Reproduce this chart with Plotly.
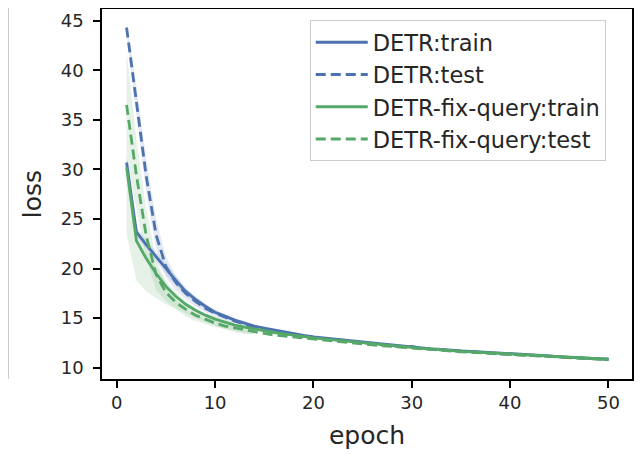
import plotly.graph_objects as go

epochs = list(range(1, 51))

detr_train = [30.7, 23.7, 22.4, 21.2, 19.9, 18.8, 17.7, 16.9, 16.2, 15.6,
              15.2, 14.8, 14.5, 14.2, 14.0, 13.8, 13.6, 13.4, 13.25, 13.1,
              13.0, 12.9, 12.8, 12.7, 12.55, 12.45, 12.35, 12.25, 12.15, 12.1,
              12.0, 11.9, 11.85, 11.75, 11.7, 11.65, 11.6, 11.5, 11.45, 11.4,
              11.35, 11.3, 11.25, 11.2, 11.1, 11.05, 11.0, 10.95, 10.9, 10.85]

detr_test = [44.3, 37.0, 29.3, 23.4, 20.2, 18.6, 17.5, 16.7, 16.0, 15.5,
             15.1, 14.7, 14.4, 14.1, 13.9, 13.7, 13.5, 13.35, 13.2, 13.05,
             12.95, 12.85, 12.75, 12.65, 12.5, 12.4, 12.3, 12.2, 12.1, 12.15,
             11.95, 11.85, 11.8, 11.7, 11.65, 11.6, 11.55, 11.45, 11.4, 11.35,
             11.3, 11.25, 11.2, 11.15, 11.1, 11.05, 11.0, 10.95, 10.9, 10.85]

fix_train = [30.2, 22.8, 21.0, 19.5, 18.2, 17.2, 16.4, 15.8, 15.3, 14.9,
             14.6, 14.3, 14.1, 13.9, 13.7, 13.55, 13.4, 13.25, 13.1, 13.0,
             12.9, 12.8, 12.7, 12.6, 12.5, 12.4, 12.3, 12.2, 12.1, 12.05,
             11.95, 11.9, 11.8, 11.75, 11.65, 11.6, 11.55, 11.5, 11.45, 11.4,
             11.3, 11.25, 11.2, 11.15, 11.1, 11.05, 11.0, 10.95, 10.9, 10.85]

fix_test = [36.5, 29.4, 23.3, 19.4, 17.6, 16.6, 15.9, 15.3, 14.9, 14.5,
            14.2, 14.0, 13.8, 13.6, 13.45, 13.3, 13.2, 13.05, 12.95, 12.85,
            12.75, 12.65, 12.6, 12.5, 12.4, 12.3, 12.2, 12.15, 12.05, 12.0,
            11.9, 11.85, 11.75, 11.7, 11.6, 11.55, 11.5, 11.45, 11.4, 11.35,
            11.3, 11.25, 11.2, 11.15, 11.1, 11.05, 11.0, 10.95, 10.9, 10.8]

# confidence bands (first 14 epochs, where visible)
band_epochs = list(range(1, 15))
detr_train_lo = [30.0, 23.2, 21.9, 20.7, 19.4, 18.3, 17.3, 16.6, 15.9, 15.4, 15.0, 14.6, 14.3, 14.1]
detr_train_hi = [31.4, 24.2, 22.9, 21.7, 20.4, 19.3, 18.1, 17.2, 16.5, 15.8, 15.4, 15.0, 14.7, 14.3]
detr_test_lo = [43.6, 35.5, 27.6, 21.9, 19.1, 17.8, 16.9, 16.2, 15.6, 15.2, 14.8, 14.5, 14.2, 14.0]
detr_test_hi = [45.0, 38.5, 31.0, 25.0, 21.2, 19.3, 18.0, 17.1, 16.3, 15.8, 15.4, 14.9, 14.6, 14.2]
fix_train_lo = [23.5, 18.8, 17.7, 17.0, 16.4, 16.0, 15.5, 15.0, 14.6, 14.2, 13.9, 13.6, 13.4, 13.4]
fix_train_hi = [31.0, 24.0, 21.8, 20.2, 18.8, 17.6, 16.7, 16.0, 15.5, 15.2, 14.8, 14.5, 14.3, 14.1]
fix_test_lo = [31.0, 26.0, 21.0, 17.8, 16.7, 15.9, 15.2, 14.7, 14.4, 14.1, 13.9, 13.7, 13.5, 13.4]
fix_test_hi = [42.0, 33.0, 26.0, 21.0, 18.5, 16.9, 15.9, 15.4, 15.0, 14.7, 14.4, 14.2, 14.0, 13.8]

x_ticks = [0, 10, 20, 30, 40, 50]
y_ticks = [10, 15, 20, 25, 30, 35, 40, 45]

BLUE = "#4C72B0"
GREEN = "#55A868"
FONT = "DejaVu Sans"
TXT = "#262626"

fig = go.Figure()

def band(lo, hi, rgba):
    fig.add_trace(go.Scatter(
        x=band_epochs + band_epochs[::-1],
        y=hi + lo[::-1],
        fill="toself", fillcolor=rgba,
        line=dict(width=0), mode="lines",
        showlegend=False, hoverinfo="skip"))

band(detr_train_lo, detr_train_hi, "rgba(76,114,176,0.15)")
band(detr_test_lo, detr_test_hi, "rgba(76,114,176,0.15)")
band(fix_train_lo, fix_train_hi, "rgba(85,168,104,0.15)")
band(fix_test_lo, fix_test_hi, "rgba(85,168,104,0.15)")

DASH = "10px,5px"
LW = 2.8
fig.add_trace(go.Scatter(x=epochs, y=detr_train, mode="lines", name="DETR:train",
                         line=dict(color=BLUE, width=LW)))
fig.add_trace(go.Scatter(x=epochs, y=detr_test, mode="lines", name="DETR:test",
                         line=dict(color=BLUE, width=LW, dash=DASH)))
fig.add_trace(go.Scatter(x=epochs, y=fix_train, mode="lines", name="DETR-fix-query:train",
                         line=dict(color=GREEN, width=LW)))
fig.add_trace(go.Scatter(x=epochs, y=fix_test, mode="lines", name="DETR-fix-query:test",
                         line=dict(color=GREEN, width=LW, dash=DASH)))

axis_common = dict(showline=True, mirror=True, linecolor="black", linewidth=1.5,
                   ticks="outside", ticklen=7, tickwidth=1.5, tickcolor="black",
                   showgrid=False, zeroline=False, automargin=False,
                   tickfont=dict(family=FONT, size=18, color=TXT))

fig.update_layout(
    width=634, height=446,
    margin=dict(l=94, r=10, t=1, b=75),
    paper_bgcolor="white", plot_bgcolor="white",
    font=dict(family=FONT, color=TXT),
    xaxis=dict(range=[-1.5, 52.4], tickvals=x_ticks,
               title=dict(text="epoch", font=dict(family=FONT, size=25, color=TXT), standoff=14),
               **axis_common),
    yaxis=dict(range=[8.86, 46.18], tickvals=y_ticks, ticklabelstandoff=6,
               title=dict(text="loss", font=dict(family=FONT, size=25, color=TXT), standoff=12),
               **axis_common),
    legend=dict(x=0.392, y=0.97, xanchor="left", yanchor="top",
                itemwidth=52,
                bgcolor="rgba(255,255,255,0.8)", bordercolor="#cccccc", borderwidth=1,
                font=dict(family=FONT, size=22.5, color=TXT)),
    shapes=[dict(type="line", xref="paper", yref="paper", x0=-0.1764, x1=-0.1764,
                 y0=0.0, y1=1.03, line=dict(color="#cccccc", width=1))],
)

fig.write_html("out.html")
